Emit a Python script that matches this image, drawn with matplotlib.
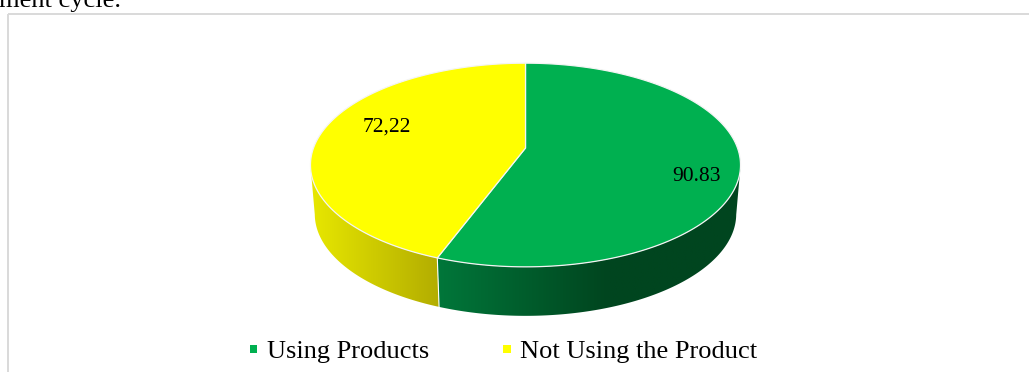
import numpy as np
import matplotlib
matplotlib.use("Agg")
import matplotlib.pyplot as plt
from matplotlib.colors import to_rgb
from matplotlib.patches import Polygon, Rectangle

categories = ["Using Products", "Not Using the Product"]
values = [90.83, 72.22]
value_labels = ["90.83", "72,22"]

colors = ["#00B050", "#FFFF00"]
# side wall colours, left to right on screen
side_colors = [("#00773A", "#00451F"), ("#E8E800", "#B3AD00")]
# green reaches its darkest shade before the end of the wall
side_stop = [607, None]

W, H = 1029, 372
cx, cy = 525.5, 148
rx, ry = 212, 99
persp = 0.167
depth = 49
narrow = 0.98

plt.rcParams["font.family"] = ["Liberation Serif", "DejaVu Serif"]


def project(theta):
    # circle seen in perspective, the near edge comes out bigger
    u = np.cos(theta)
    v = np.sin(theta)
    w = 1 + persp * v
    return cx + rx * u / w, cy - ry * v / w


def lower(x, y):
    # bottom rim of the pie, a bit narrower than the top
    return cx + (x - cx) * narrow, y + depth


fig = plt.figure(figsize=(W / 100, H / 100), dpi=100)
ax = fig.add_axes([0, 0, 1, 1])
ax.axis("off")

fractions = np.array(values) / sum(values)
edges = np.pi / 2 - 2 * np.pi * np.concatenate([[0], np.cumsum(fractions)])

# side wall, a horizontal gradient clipped to the wall's outline
for i in range(len(values)):
    theta = np.linspace(edges[i], edges[i + 1], 400)
    # the wall starts where the projected circle is widest
    theta = theta[np.sin(theta) < -persp]
    x, y = project(theta)
    bx, by = lower(x, y)
    outline = np.column_stack([np.r_[x, bx[::-1]], np.r_[y, by[::-1]]])
    x0, x1 = outline[:, 0].min(), outline[:, 0].max()
    stop = side_stop[i] if side_stop[i] else x1
    xs = np.linspace(x0, x1, 512)
    t = np.clip((xs - x0) / (stop - x0), 0, 1)[None, :, None]
    a = np.array(to_rgb(side_colors[i][0]))
    b = np.array(to_rgb(side_colors[i][1]))
    img = ax.imshow(a + (b - a) * t, extent=(x0, x1, outline[:, 1].max(), outline[:, 1].min()),
                    aspect="auto", zorder=2, interpolation="bilinear")
    patch = Polygon(outline, closed=True, transform=ax.transData, facecolor="none", edgecolor="none")
    ax.add_patch(patch)
    img.set_clip_path(patch)

# white seam on the wall between the wedges
sx, sy = project(edges[1])
ex, ey = lower(sx, sy)
ax.plot([sx, ex], [sy, ey], color="white", lw=0.8, zorder=3)

# top of the pie
for i in range(len(values)):
    theta = np.linspace(edges[i], edges[i + 1], 300)
    x, y = project(theta)
    pts = np.column_stack([np.r_[cx, x], np.r_[cy, y]])
    ax.add_patch(Polygon(pts, closed=True, facecolor=colors[i], edgecolor="#F4F4F4", lw=0.9, zorder=4))

ax.text(696.5, 181, value_labels[0], fontsize=15.5, ha="center", va="baseline", color="black", zorder=5)
ax.text(386.5, 132, value_labels[1], fontsize=15.5, ha="center", va="baseline", color="black", zorder=5)

# frame of the chart
ax.plot([8, 8], [H, 14], color="#D9D9D9", lw=1.4, zorder=1, solid_capstyle="butt")
ax.plot([8, W], [14, 14], color="#D9D9D9", lw=1.4, zorder=1, solid_capstyle="butt")

# end of the sentence above the chart, cut by the top of the picture
ax.text(121, 7, "ment cycle.", fontsize=19, ha="right", va="baseline", color="black")

# legend
ax.add_patch(Rectangle((249.5, 345), 7.5, 7.5, facecolor=colors[0], edgecolor="none"))
ax.text(267, 358, categories[0], fontsize=19, ha="left", va="baseline", color="black")
ax.add_patch(Rectangle((503, 345), 7.5, 7.5, facecolor=colors[1], edgecolor="none"))
ax.text(520, 358, categories[1], fontsize=19, ha="left", va="baseline", color="black")

ax.set_xlim(0, W)
ax.set_ylim(H, 0)

fig.savefig("out.png", dpi=100)
